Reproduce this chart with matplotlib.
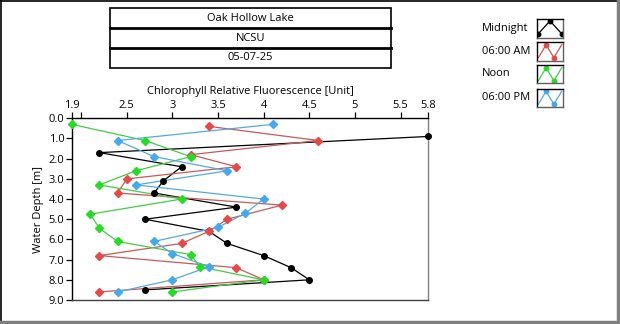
import numpy as np
import matplotlib
matplotlib.use('Agg')
import matplotlib.pyplot as plt
from matplotlib.patches import Rectangle
from matplotlib.lines import Line2D

plt.rcParams['font.family'] = ['Open Sans', 'DejaVu Sans']
plt.rcParams['font.size'] = 7.5

# Данные: флуоресценция хлорофилла по глубине
midnight_x = [5.8, 2.2, 3.1, 2.9, 2.8, 3.7, 2.7, 3.4, 3.6, 4.0, 4.3, 4.5, 2.7]
midnight_d = [0.9, 1.7, 2.4, 3.1, 3.7, 4.4, 5.0, 5.6, 6.2, 6.8, 7.4, 8.0, 8.5]

am6_x = [3.4, 4.6, 3.2, 3.7, 2.5, 2.4, 4.2, 3.6, 3.4, 3.1, 2.2, 3.7, 4.0, 2.2]
am6_d = [0.4, 1.1, 1.8, 2.4, 3.0, 3.7, 4.3, 5.0, 5.6, 6.2, 6.8, 7.4, 8.0, 8.6]

noon_x = [1.9, 2.7, 3.2, 2.6, 2.2, 3.1, 2.1, 2.2, 2.4, 3.2, 3.3, 4.0, 3.0]
noon_d = [0.3, 1.1, 1.9, 2.6, 3.3, 4.0, 4.75, 5.45, 6.1, 6.75, 7.35, 8.0, 8.6]

pm6_x = [4.1, 2.4, 2.8, 3.6, 2.6, 4.0, 3.8, 3.5, 2.8, 3.0, 3.4, 3.0, 2.4]
pm6_d = [0.3, 1.1, 1.9, 2.6, 3.3, 4.0, 4.7, 5.4, 6.1, 6.7, 7.35, 8.0, 8.6]

series_names = ['Midnight', '06:00 AM', 'Noon', '06:00 PM']
line_colors = ['#000000', '#c85a5a', '#44cc44', '#55aadd']
marker_colors = ['#000000', '#e84848', '#22dd22', '#44aaee']
markers = ['o', 'D', 'D', 'D']

title_rows = ['Oak Hollow Lake', 'NCSU', '05-07-25']
x_ticks = [1.9, 2.0, 2.5, 3.0, 3.5, 4.0, 4.5, 5.0, 5.5, 5.8]
x_tick_labels = ['1.9', '', '2.5', '3', '3.5', '4', '4.5', '5', '5.5', '5.8']
y_ticks = np.arange(0, 10, 1.0)

W, H = 620, 324
fig = plt.figure(figsize=(W / 100, H / 100), dpi=100)

# Рамка вокруг всего рисунка
fig.add_artist(Line2D([0.5 / W, 0.5 / W], [0, 1], color='black', lw=1.2))
fig.add_artist(Line2D([0, 1], [1 - 0.5 / H, 1 - 0.5 / H], color='black', lw=1.2))
fig.add_artist(Line2D([1 - 2 / W, 1 - 2 / W], [0, 1], color='#808080', lw=2.5))
fig.add_artist(Line2D([0, 1], [2 / H, 2 / H], color='#808080', lw=2.5))

# Основной график
ax = fig.add_axes([72 / W, 1 - 300 / H, (428 - 72) / W, (300 - 118.3) / H])
all_x = [midnight_x, am6_x, noon_x, pm6_x]
all_d = [midnight_d, am6_d, noon_d, pm6_d]
for xs, ds, lc, mc, mk in zip(all_x, all_d, line_colors, marker_colors, markers):
    ax.plot(xs, ds, color=lc, lw=0.9, zorder=2)
    ax.plot(xs, ds, ls='none', marker=mk, ms=4 if mk == 'o' else 4.2,
            mfc=mc, mec=mc, zorder=3, clip_on=False)

ax.set_xlim(1.9, 5.8)
ax.set_ylim(9.0, 0.0)
ax.xaxis.tick_top()
ax.xaxis.set_label_position('top')
ax.set_xticks(x_ticks)
ax.set_xticklabels(x_tick_labels)
ax.set_yticks(y_ticks)
ax.set_yticklabels(['%.1f' % v for v in y_ticks])
ax.tick_params(axis='both', direction='out', length=4, width=0.9, pad=1.5, labelsize=8)
ax.set_xlabel('Chlorophyll Relative Fluorescence [Unit]', fontsize=8, labelpad=4)
ax.set_ylabel('Water Depth [m]', fontsize=8, labelpad=3)
ax.spines['left'].set_color('black')
ax.spines['top'].set_color('black')
ax.spines['right'].set_color('#808080')
ax.spines['bottom'].set_color('#404040')
for s in ax.spines.values():
    s.set_linewidth(1.0)

# Таблица заголовка
tx0, tx1 = 110 / W, 391 / W
row_edges = [8, 28.3, 48.3, 67.5]
for i, txt in enumerate(title_rows):
    top = 1 - row_edges[i] / H
    bot = 1 - row_edges[i + 1] / H
    fig.text((tx0 + tx1) / 2, (top + bot) / 2, txt, ha='center', va='center', fontsize=8)
fig.add_artist(Rectangle((tx0, 1 - row_edges[-1] / H), tx1 - tx0,
                         (row_edges[-1] - row_edges[0]) / H,
                         fill=False, ec='black', lw=1.2, transform=fig.transFigure))
for e in row_edges[1:-1]:
    fig.add_artist(Line2D([tx0, tx1], [1 - e / H, 1 - e / H], color='black', lw=2.0))

# Легенда со значками
icon_peak = [0.05, 0.5, 0.95]
icon_peak_y = [0.2, 0.9, 0.2]
icon_wave = [0.05, 0.35, 0.65, 0.95]
icon_wave_y = [0.15, 0.85, 0.15, 0.85]
box_tops = [19, 42, 65, 88.5]
for name, top, lc, mc, mk in zip(series_names, box_tops, line_colors, marker_colors, markers):
    y_mid = 1 - (top + 9) / H
    fig.text(482 / W, y_mid, name, ha='left', va='center', fontsize=8)
    iax = fig.add_axes([537 / W, 1 - (top + 18.5) / H, 26 / W, 18.5 / H])
    if name == 'Midnight':
        xs, ys = icon_peak, icon_peak_y
        mx, my = [0.05, 0.5, 0.95], [0.2, 0.9, 0.2]
    else:
        xs, ys = icon_wave, icon_wave_y
        mx, my = [0.35, 0.65], [0.85, 0.15]
    iax.plot(xs, ys, color=lc, lw=0.9)
    iax.plot(mx, my, ls='none', marker='o', ms=3.2, mfc=mc, mec=mc)
    iax.set_xlim(0, 1)
    iax.set_ylim(0, 1)
    iax.set_xticks([])
    iax.set_yticks([])
    for side, s in iax.spines.items():
        s.set_linewidth(1.0)
        s.set_color('black' if side in ('left', 'top') else '#606060')

fig.savefig('out.png', dpi=100)
